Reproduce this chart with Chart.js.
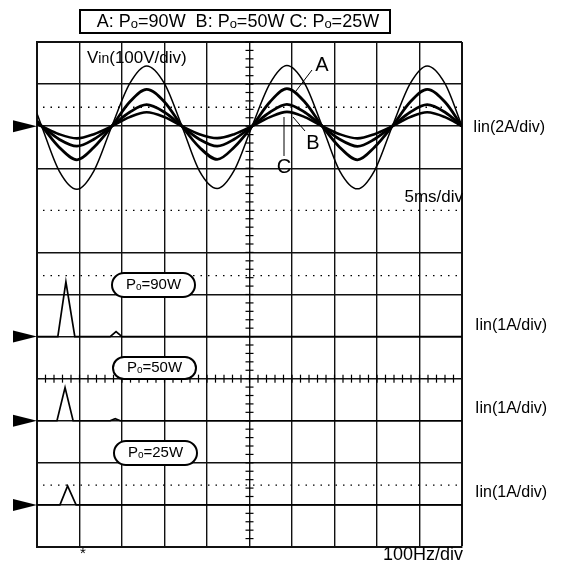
<!DOCTYPE html>
<html>
<head>
<meta charset="utf-8">
<script src="https://cdn.jsdelivr.net/npm/chart.js@4.4.1/dist/chart.umd.min.js"></script>
<style>
  html, body { margin: 0; padding: 0; background: #fff; }
</style>
</head>
<body>
<canvas id="scope" width="564" height="565"></canvas>
<script>
// time domain, 5ms/div (10 div)
const tMs = [0, 0.55, 2.6, 4.7, 6.7, 8.8, 10.9, 12.9, 15.0, 17.05, 19.1, 21.2, 23.2,
  25.3, 27.4, 29.4, 31.5, 33.55, 35.6, 37.7, 39.7, 41.8, 43.9, 45.9, 48.0, 50.0];
// Vin, 100V/div
const vin = [30, 0, -106, -150, -106, 0, 101, 143, 101, 0, -106, -148, -105,
  0, 101, 144, 101, 0, -106, -149, -106, 0, 101, 143, 101, 0];
// Iin, 2A/div  (A: Po=90W, B: Po=50W, C: Po=25W)
const iA = [0.25, 0, -1.0, -1.6, -1.0, 0, 1.15, 1.75, 1.15, 0, -1.0, -1.58, -1.0,
  0, 1.15, 1.78, 1.15, 0, -1.0, -1.6, -1.0, 0, 1.15, 1.75, 1.15, 0];
const iB = [0.15, 0, -0.62, -0.95, -0.62, 0, 0.66, 1.02, 0.66, 0, -0.62, -0.95, -0.62,
  0, 0.66, 1.04, 0.66, 0, -0.62, -0.96, -0.62, 0, 0.66, 1.02, 0.66, 0];
const iC = [0.1, 0, -0.38, -0.58, -0.38, 0, 0.43, 0.66, 0.43, 0, -0.38, -0.57, -0.38,
  0, 0.43, 0.68, 0.43, 0, -0.38, -0.58, -0.38, 0, 0.43, 0.66, 0.43, 0];

// spectra, 100Hz/div, 1A/div
const f90 = [0, 49, 68, 89, 172, 186, 200, 1000];
const s90 = [0, 0, 1.3, 0, 0, 0.12, 0, 0];
const f50 = [0, 47, 66, 85, 172, 184, 196, 1000];
const s50 = [0, 0, 0.79, 0, 0, 0.05, 0, 0];
const f25 = [0, 54, 72, 92, 1000];
const s25 = [0, 0, 0.45, 0, 0];

// extra dotted reference lines, in divisions from the bottom
const dottedLevels = [10.45, 8, 6.45, 1.47];

const FONT = "'Liberation Sans', Arial, sans-serif";

function pts(xs, ys) {
  return xs.map((x, i) => ({ x: x, y: ys[i] }));
}

function trace(data, x, y, w, smooth) {
  return {
    data: data,
    xAxisID: x,
    yAxisID: y,
    borderColor: "#000",
    borderWidth: w,
    pointRadius: 0,
    fill: false,
    tension: 0,
    cubicInterpolationMode: smooth ? "monotone" : "default",
  };
}

// parts: [text, size, dy]
function drawRich(ctx, parts, x, y, align) {
  let total = 0;
  parts.forEach((p) => {
    ctx.font = p[1] + "px " + FONT;
    total += ctx.measureText(p[0]).width;
  });
  let cx = align === "center" ? x - total / 2 : align === "right" ? x - total : x;
  ctx.textAlign = "left";
  ctx.textBaseline = "middle";
  parts.forEach((p) => {
    ctx.font = p[1] + "px " + FONT;
    ctx.fillText(p[0], cx, y + (p[2] || 0));
    cx += ctx.measureText(p[0]).width;
  });
}

function pill(ctx, x1, y1, x2, y2, label) {
  const r = (y2 - y1) / 2;
  ctx.beginPath();
  ctx.moveTo(x1 + r, y1);
  ctx.lineTo(x2 - r, y1);
  ctx.arc(x2 - r, y1 + r, r, -Math.PI / 2, Math.PI / 2);
  ctx.lineTo(x1 + r, y2);
  ctx.arc(x1 + r, y1 + r, r, Math.PI / 2, Math.PI * 1.5);
  ctx.closePath();
  ctx.fillStyle = "#fff";
  ctx.fill();
  ctx.lineWidth = 2;
  ctx.stroke();
  ctx.fillStyle = "#000";
  drawRich(ctx, [["P", 15], ["o", 10, 2], ["=" + label, 15]], (x1 + x2) / 2, (y1 + y2) / 2, "center");
}

const scopeDecor = {
  id: "scopeDecor",
  afterDraw(chart) {
    const ctx = chart.ctx;
    const s = chart.scales;
    const a = chart.chartArea;
    ctx.save();
    ctx.strokeStyle = "#000";
    ctx.fillStyle = "#000";

    // dotted lines
    ctx.setLineDash([1.5, 6]);
    ctx.lineWidth = 1.3;
    dottedLevels.forEach((v) => {
      const y = s.yg.getPixelForValue(v);
      ctx.beginPath();
      ctx.moveTo(a.left + 6, y);
      ctx.lineTo(a.right, y);
      ctx.stroke();
    });
    ctx.setLineDash([]);

    // centre axis ticks
    ctx.lineWidth = 1.2;
    const cx = s.xt.getPixelForValue(25);
    for (let v = 0.2; v < 12; v += 0.2) {
      const y = s.yg.getPixelForValue(v);
      ctx.beginPath();
      ctx.moveTo(cx - 4, y);
      ctx.lineTo(cx + 4, y);
      ctx.stroke();
    }
    const cy = s.yg.getPixelForValue(4);
    for (let t = 1; t < 50; t += 1) {
      const x = s.xt.getPixelForValue(t);
      ctx.beginPath();
      ctx.moveTo(x, cy - 4);
      ctx.lineTo(x, cy + 4);
      ctx.stroke();
    }

    // channel markers
    [s.yi.getPixelForValue(0), s.y90.getPixelForValue(0),
     s.y50.getPixelForValue(0), s.y25.getPixelForValue(0)].forEach((y) => {
      ctx.beginPath();
      ctx.moveTo(13, y - 6);
      ctx.lineTo(13, y + 6);
      ctx.lineTo(a.left, y);
      ctx.closePath();
      ctx.fill();
    });

    // title box
    ctx.lineWidth = 2;
    ctx.strokeRect(80, 10, 310, 23);
    drawRich(ctx, [["A: P", 18], ["o", 13, 2], ["=90W  B: P", 18], ["o", 13, 2],
      ["=50W C: P", 18], ["o", 13, 2], ["=25W", 18]], 238, 22, "center");

    // labels
    drawRich(ctx, [["V", 17], ["in", 14, 1], ["(100V/div)", 17]], 87, 58, "left");
    drawRich(ctx, [["Iin(2A/div)", 16]], 473, 128, "left");
    drawRich(ctx, [["Iin(1A/div)", 16]], 475, 326, "left");
    drawRich(ctx, [["Iin(1A/div)", 16]], 475, 409, "left");
    drawRich(ctx, [["Iin(1A/div)", 16]], 475, 493, "left");
    drawRich(ctx, [["5ms/div", 17]], 463, 197, "right");
    drawRich(ctx, [["100Hz/div", 18]], 463, 555, "right");
    drawRich(ctx, [["*", 15]], 83, 554, "center");

    // trace letters with leaders
    drawRich(ctx, [["A", 20]], 322, 65, "center");
    drawRich(ctx, [["B", 20]], 313, 143, "center");
    drawRich(ctx, [["C", 20]], 284, 167, "center");
    ctx.lineWidth = 1;
    ctx.beginPath();
    ctx.moveTo(312, 70); ctx.lineTo(296, 91);
    ctx.moveTo(305, 131); ctx.lineTo(293, 117);
    ctx.moveTo(284, 156); ctx.lineTo(284, 117);
    ctx.stroke();

    // power pills
    pill(ctx, 112, 273, 195, 297, "90W");
    pill(ctx, 113, 357, 196, 379, "50W");
    pill(ctx, 114, 441, 197, 465, "25W");

    ctx.restore();
  },
};

new Chart(document.getElementById("scope"), {
  type: "line",
  data: {
    datasets: [
      trace(pts(tMs, vin), "xt", "yv", 1.5, true),
      trace(pts(tMs, iA), "xt", "yi", 2.8, true),
      trace(pts(tMs, iB), "xt", "yi", 2.8, true),
      trace(pts(tMs, iC), "xt", "yi", 2.6, true),
      trace(pts(f90, s90), "xf", "y90", 1.7, false),
      trace(pts(f50, s50), "xf", "y50", 1.7, false),
      trace(pts(f25, s25), "xf", "y25", 1.7, false),
    ],
  },
  options: {
    responsive: false,
    animation: false,
    devicePixelRatio: 1,
    layout: { padding: { left: 37, right: 102, top: 42, bottom: 18 } },
    plugins: { legend: { display: false }, tooltip: { enabled: false } },
    scales: {
      xt: {
        type: "linear", position: "bottom", min: 0, max: 50,
        ticks: { display: false, stepSize: 5 },
        grid: { color: "#111", lineWidth: (c) => (c.tick && c.tick.value === 50 ? 2 : 1.4), drawTicks: false },
        border: { display: true, color: "#111", width: 2 },
      },
      xf: { type: "linear", min: 0, max: 1000, display: false },
      yg: {
        type: "linear", position: "left", min: 0, max: 12,
        ticks: { display: false, stepSize: 1 },
        grid: {
          color: (c) => (c.tick && c.tick.value === 8 ? "rgba(0,0,0,0)" : "#111"),
          lineWidth: (c) => (c.tick && c.tick.value === 12 ? 2 : 1.4),
          drawTicks: false,
        },
        border: { display: true, color: "#111", width: 2 },
      },
      yv: { type: "linear", min: -1000, max: 200, display: false },
      yi: { type: "linear", min: -20, max: 4, display: false },
      y90: { type: "linear", min: -5, max: 7, display: false },
      y50: { type: "linear", min: -3, max: 9, display: false },
      y25: { type: "linear", min: -1, max: 11, display: false },
    },
  },
  plugins: [scopeDecor],
});
</script>
</body>
</html>
